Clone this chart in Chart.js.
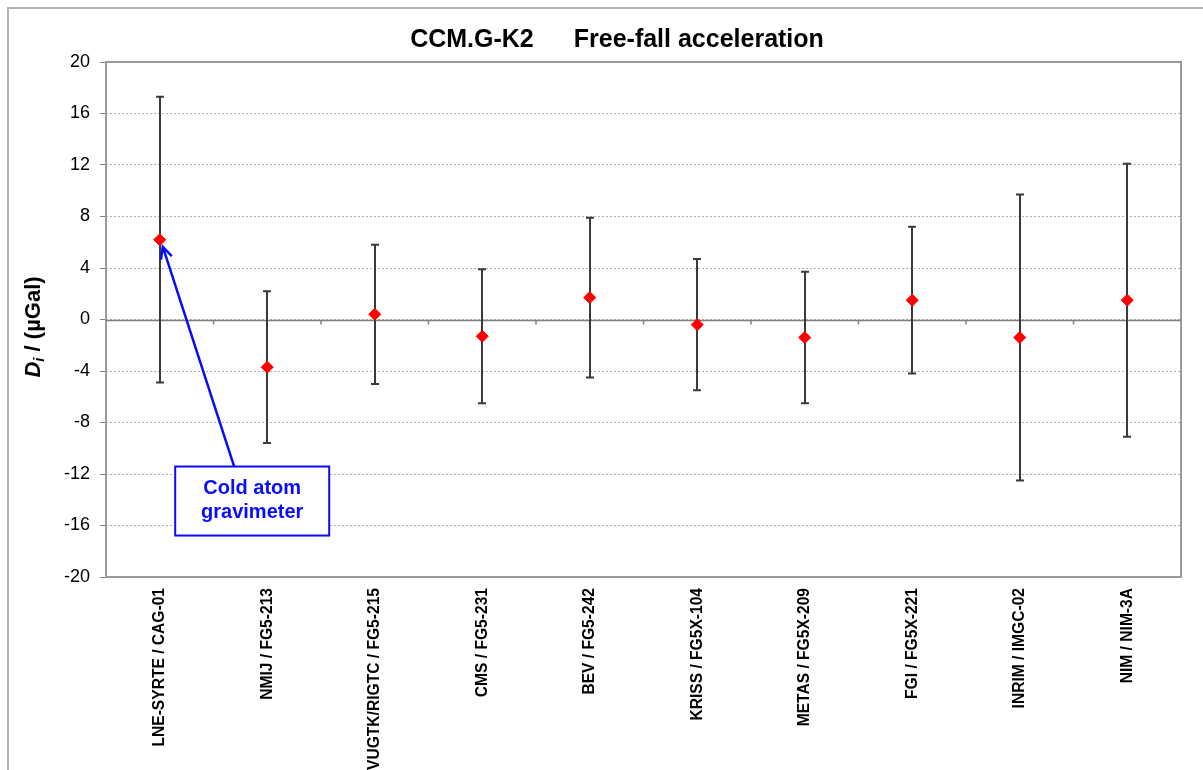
<!DOCTYPE html>
<html>
<head>
<meta charset="utf-8">
<title>CCM.G-K2 Free-fall acceleration</title>
<script src="https://cdn.jsdelivr.net/npm/chart.js@4.4.0/dist/chart.umd.min.js"></script>
<style>
  html, body { margin: 0; padding: 0; background: #fff; }
  canvas { display: block; }
</style>
</head>
<body>
<canvas id="dovChart" width="1203" height="770"></canvas>
<script>
// Participants (institute / instrument)
const participants = [
    'LNE-SYRTE / CAG-01', 'NMIJ / FG5-213', 'VUGTK/RIGTC / FG5-215', 'CMS / FG5-231',
    'BEV / FG5-242', 'KRISS / FG5X-104', 'METAS / FG5X-209', 'FGI / FG5X-221',
    'INRIM / IMGC-02', 'NIM / NIM-3A'
];

// Degrees of equivalence D_i, µGal
const degreesOfEquivalence = [6.2, -3.7, 0.4, -1.3, 1.7, -0.4, -1.4, 1.5, -1.4, 1.5];

// Expanded uncertainties U_i, µGal
const expandedUncertainty = [11.1, 5.9, 5.4, 5.2, 6.2, 5.1, 5.1, 5.7, 11.1, 10.6];

// y axis tick values
const yTicks = [-20, -16, -12, -8, -4, 0, 4, 8, 12, 16, 20];

const FONT = "'Liberation Sans', Arial, sans-serif";
const BLUE = '#0a0aff';

// White page + outer frame of the figure
const background = {
    id: 'background',
    beforeDraw(chart) {
        const ctx = chart.ctx;
        ctx.save();
        ctx.fillStyle = '#fff';
        ctx.fillRect(0, 0, chart.width, chart.height);
        ctx.strokeStyle = '#b4b4b4';
        ctx.lineWidth = 2;
        ctx.strokeRect(8, 8, chart.width + 20, chart.height + 20);
        ctx.restore();
    }
};

// Plot frame, zero line and the uncertainty bars
const errorBars = {
    id: 'errorBars',
    beforeDatasetsDraw(chart) {
        const { ctx, chartArea: a, scales: { x, y } } = chart;
        ctx.save();
        ctx.strokeStyle = '#9a9a9a';
        ctx.lineWidth = 2;
        ctx.strokeRect(a.left, a.top, a.right - a.left, a.bottom - a.top);

        const y0 = Math.round(y.getPixelForValue(0)) + 0.5;
        ctx.strokeStyle = '#808080';
        ctx.lineWidth = 1.5;
        ctx.beginPath();
        ctx.moveTo(a.left, y0);
        ctx.lineTo(a.right, y0);
        for (let i = 1; i < participants.length; i++) {
            const bx = (x.getPixelForValue(i - 1) + x.getPixelForValue(i)) / 2;
            ctx.moveTo(bx, y0);
            ctx.lineTo(bx, y0 + 4);
        }
        ctx.stroke();

        ctx.strokeStyle = '#3a3a3a';
        ctx.lineWidth = 2;
        degreesOfEquivalence.forEach((d, i) => {
            const px = Math.round(x.getPixelForValue(i));
            const top = y.getPixelForValue(d + expandedUncertainty[i]);
            const bot = y.getPixelForValue(d - expandedUncertainty[i]);
            ctx.beginPath();
            ctx.moveTo(px, top);
            ctx.lineTo(px, bot);
            ctx.moveTo(px - 4, top);
            ctx.lineTo(px + 4, top);
            ctx.moveTo(px - 4, bot);
            ctx.lineTo(px + 4, bot);
            ctx.stroke();
        });
        ctx.restore();
    }
};

// Title, y axis title and the "Cold atom gravimeter" call-out
const labelsAndNotes = {
    id: 'labelsAndNotes',
    afterDraw(chart) {
        const { ctx, scales: { x, y } } = chart;
        ctx.save();

        // chart title
        ctx.fillStyle = '#000';
        ctx.textBaseline = 'alphabetic';
        ctx.textAlign = 'left';
        ctx.font = `bold 25px ${FONT}`;
        const t1 = 'CCM.G-K2', t2 = 'Free-fall acceleration', gap = 40;
        const w1 = ctx.measureText(t1).width, w2 = ctx.measureText(t2).width;
        const tx = 617 - (w1 + gap + w2) / 2;
        ctx.fillText(t1, tx, 47);
        ctx.fillText(t2, tx + w1 + gap, 47);

        // y axis title: D_i / (µGal)
        ctx.save();
        ctx.translate(32, 327);
        ctx.rotate(-Math.PI / 2);
        const fD = `italic bold 22px ${FONT}`, fi = `italic bold 15px ${FONT}`, fr = `bold 22px ${FONT}`;
        const rest = ' / (µGal)';
        ctx.font = fD; const wD = ctx.measureText('D').width;
        ctx.font = fi; const wi = ctx.measureText('i').width;
        ctx.font = fr; const wr = ctx.measureText(rest).width;
        let cx = -(wD + wi + wr) / 2;
        ctx.font = fD; ctx.fillText('D', cx, 8); cx += wD;
        ctx.font = fi; ctx.fillText('i', cx, 12); cx += wi;
        ctx.font = fr; ctx.fillText(rest, cx, 8);
        ctx.restore();

        // call-out box and arrow
        const bw = 154, bh = 69;
        const bx = x.getPixelForValue(0.86), by = y.getPixelForValue(-14.1);
        const tip = { x: x.getPixelForValue(0) + 3, y: y.getPixelForValue(degreesOfEquivalence[0]) + 7 };
        const start = { x: bx - 18, y: by - bh / 2 };
        ctx.strokeStyle = BLUE;
        ctx.lineWidth = 2.5;
        ctx.beginPath();
        ctx.moveTo(start.x, start.y);
        ctx.lineTo(tip.x, tip.y);
        const ang = Math.atan2(tip.y - start.y, tip.x - start.x);
        ctx.moveTo(tip.x + 13 * Math.cos(ang + Math.PI - 0.45), tip.y + 13 * Math.sin(ang + Math.PI - 0.45));
        ctx.lineTo(tip.x, tip.y);
        ctx.lineTo(tip.x + 13 * Math.cos(ang + Math.PI + 0.45), tip.y + 13 * Math.sin(ang + Math.PI + 0.45));
        ctx.stroke();

        ctx.fillStyle = '#fff';
        ctx.fillRect(bx - bw / 2, by - bh / 2, bw, bh);
        ctx.lineWidth = 2;
        ctx.strokeRect(bx - bw / 2, by - bh / 2, bw, bh);
        ctx.fillStyle = BLUE;
        ctx.font = `bold 20px ${FONT}`;
        ctx.textAlign = 'center';
        ctx.textBaseline = 'middle';
        ctx.fillText('Cold atom', bx, by - 13);
        ctx.fillText('gravimeter', bx, by + 11);
        ctx.restore();
    }
};

const ctx = document.getElementById('dovChart').getContext('2d');
new Chart(ctx, {
    type: 'line',
    data: {
        labels: participants,
        datasets: [{
            label: 'Di',
            data: degreesOfEquivalence,
            showLine: false,
            pointStyle: 'rectRot',
            pointRadius: 6,
            pointBorderWidth: 1,
            pointBackgroundColor: '#ff0000',
            pointBorderColor: '#ff0000'
        }]
    },
    options: {
        responsive: false,
        animation: false,
        devicePixelRatio: 1,
        layout: { padding: { top: 62, right: 22, left: 0, bottom: 0 } },
        plugins: {
            legend: { display: false },
            tooltip: { enabled: false },
            title: { display: false }
        },
        scales: {
            x: {
                offset: true,
                grid: { display: false, drawTicks: false },
                border: { display: false },
                afterFit(scale) { scale.height = 193; },
                ticks: {
                    autoSkip: false,
                    minRotation: 90,
                    maxRotation: 90,
                    padding: 11,
                    color: '#000',
                    font: { family: FONT, size: 15.6, weight: 'bold' }
                }
            },
            y: {
                min: -20,
                max: 20,
                afterBuildTicks(scale) { scale.ticks = yTicks.map(v => ({ value: v })); },
                afterFit(scale) { scale.width = 106; },
                grid: { color: '#b0b0b0', lineWidth: 1, tickColor: '#808080', tickLength: 6 },
                border: { display: false, dash: [2, 2] },
                ticks: {
                    padding: 10,
                    color: '#000',
                    font: { family: FONT, size: 18 }
                }
            }
        }
    },
    plugins: [background, errorBars, labelsAndNotes]
});
</script>
</body>
</html>
